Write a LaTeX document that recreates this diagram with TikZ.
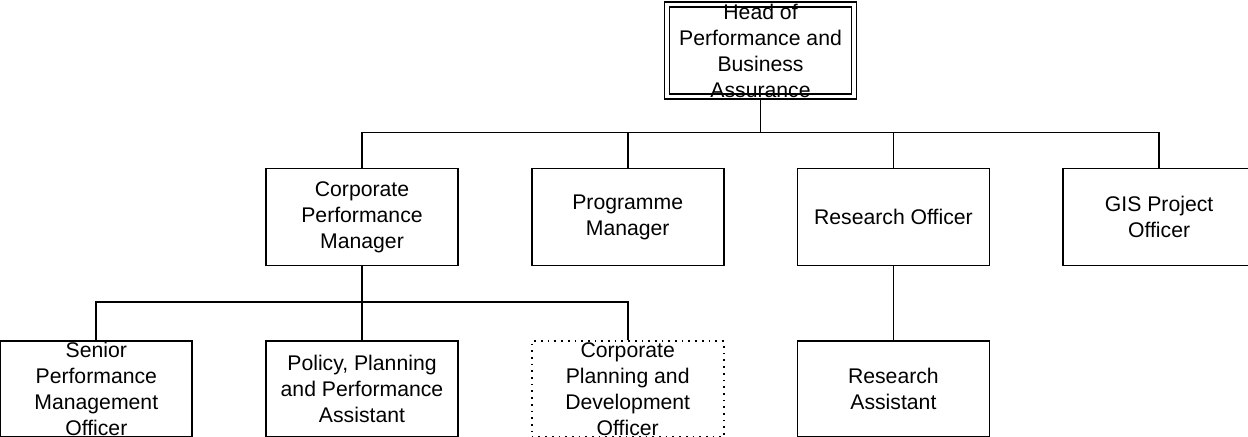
\documentclass[tikz,border=0pt]{standalone}
\usepackage{fontspec}
\setmainfont{Liberation Sans}
\usetikzlibrary{positioning,calc}
\tikzset{
    %Define style for boxes
    posten/.style={
           rectangle,
           draw=black, line width=0.85pt,
           minimum width=96pt,
           minimum height=48.5pt,
           inner xsep=2pt, inner ysep=-3pt,
           align=center,
           font=\fontsize{10.6pt}{13pt}\selectfont},
    % Define style for the head box
    leiter/.style={
           posten,
           double, double distance=1.6pt,
           minimum width=93.5pt,
           minimum height=46pt},
    % Define style for the open post
    offen/.style={
           posten,
           dash pattern=on 0.85pt off 2.5pt},
    % Define line style
    verb/.style={
           line width=0.85pt}
}
\begin{document}
\begin{tikzpicture}[node distance=36pt]

\useasboundingbox (0,0) rectangle (624pt,-218.5pt);

%nodes
\node[posten] (cpm) at (181pt,-108.5pt) {Corporate\\Performance\\Manager};
\node[posten, right=of cpm] (pm) {Programme\\Manager};
\node[posten, right=of pm] (ro) {Research Officer};
\node[posten, right=of ro] (gis) {GIS Project\\Officer};
\coordinate (mitte) at ($(pm.north)!0.5!(ro.north)$);
\node[leiter, above=35pt of mitte] (head) {Head of\\Performance and\\Business\\Assurance};

\node[posten, minimum height=48pt, below=37pt of cpm] (policy) {Policy, Planning\\and Performance\\Assistant};
\node[posten, minimum height=48pt, left=of policy] (senior) {Senior\\Performance\\Management\\Officer};
\node[offen, minimum height=48pt, right=of policy] (cpdo) {Corporate\\Planning and\\Development\\Officer};
\node[posten, minimum height=48pt, below=37pt of ro] (ra) {Research\\Assistant};

%lines
\foreach \n in {cpm,pm,ro,gis}
    \draw[verb] (head.south) -- ++(0,-17.5pt) -| (\n.north);

\foreach \n in {senior,policy,cpdo}
    \draw[verb] (cpm.south) -- ++(0,-18pt) -| (\n.north);

\draw[verb] (ro) -- (ra);

\end{tikzpicture}
\end{document}
